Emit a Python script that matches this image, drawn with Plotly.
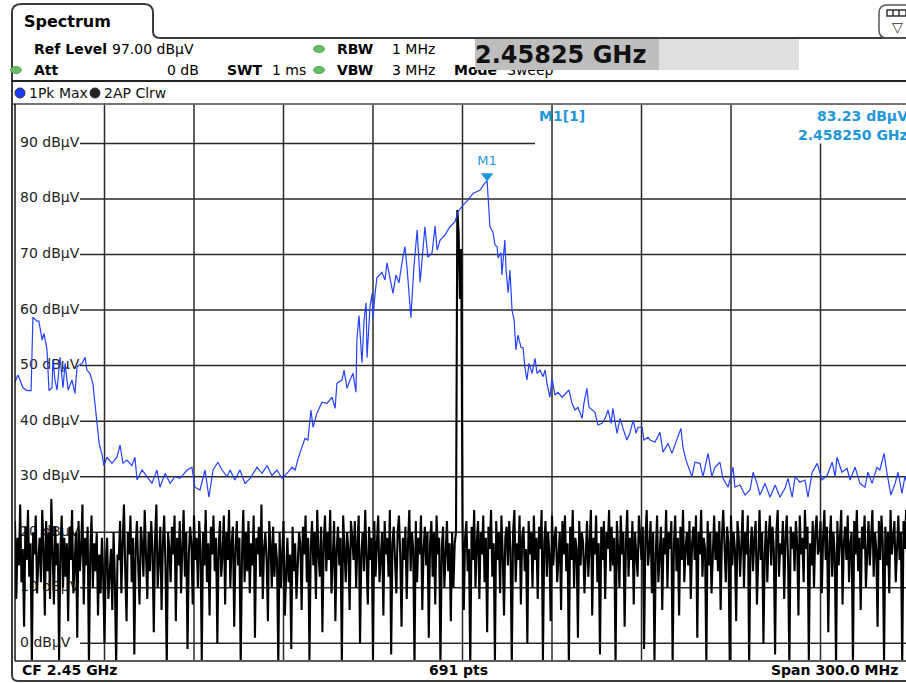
import numpy as np
import plotly.graph_objects as go

W, H = 906, 683
FONT = "DejaVu Sans"

# ---------------- data ----------------
start_ghz = 2.30
span_ghz = 0.30
n_points = 691

# Trace 1: Pk Max (blue), frequency offset from 2.30 GHz in MHz, level in dBuV
pk_offset_mhz = [
    0.0, 1.0, 2.7, 4.0, 5.4, 6.0, 7.4, 8.0, 9.1, 9.7, 10.7, 11.4, 12.4, 12.7, 13.4, 14.1,
    15.1, 16.1, 16.8, 17.8, 19.1, 20.1, 20.8, 22.5, 23.5, 24.1, 25.1, 26.1, 26.8, 27.5,
    28.2, 29.2, 29.8, 30.8, 32.5, 34.2, 35.2, 36.2, 37.5, 39.2, 40.2, 40.9, 42.6, 44.2,
    45.9, 47.6, 48.6, 50.3, 52.0, 53.6, 55.3, 57.7, 59.3, 60.3, 62.0, 63.7, 65.0, 66.4,
    68.0, 69.4, 71.1, 72.1, 73.7, 75.4, 77.1, 78.8, 81.1, 82.8, 84.5, 86.1, 87.8, 89.5,
    91.2, 92.9, 93.9, 94.9, 96.2, 97.2, 98.2, 99.2, 99.9, 101.2, 102.9, 104.6, 106.3,
    107.3, 107.9, 109.6, 110.3, 111.3, 112.3, 113.3, 114.3, 114.6, 115.3, 116.3, 117.0,
    117.7, 118.0, 119.0, 119.7, 120.0, 120.7, 121.3, 123.0, 124.0, 124.7, 125.7, 126.7,
    127.7, 128.7, 129.7, 130.7, 131.4, 132.7, 133.7, 134.8, 135.8, 136.8, 137.4, 138.4,
    139.8, 140.8, 141.5, 142.5, 144.1, 145.8, 147.5, 148.5, 150.2, 151.8, 153.5, 155.9,
    157.5, 158.25, 159.2, 160.2, 160.9, 161.6, 161.9, 162.9, 163.2, 164.2, 164.6, 165.3,
    165.9, 166.6, 167.3, 167.9, 168.6, 169.6, 170.3, 170.9, 171.6, 172.3, 173.3, 174.3,
    175.0, 176.0, 177.0, 177.7, 178.3, 179.3, 180.0, 181.0, 182.0, 183.4, 185.0, 185.7,
    186.7, 187.7, 188.7, 190.1, 190.7, 191.7, 192.4, 193.4, 194.4, 195.4, 196.8, 197.8,
    198.8, 199.8, 200.4, 201.8, 202.8, 203.8, 205.1, 206.1, 207.2, 208.2, 208.8, 210.2,
    210.8, 212.2, 212.9, 214.5, 216.2, 217.2, 218.9, 220.2, 221.9, 223.2, 223.9, 224.9,
    225.9, 226.9, 227.9, 229.6, 230.6, 232.3, 233.6, 234.6, 236.3, 237.3, 239.0, 240.7,
    241.3, 243.0, 244.7, 246.4, 247.4, 248.7, 249.7, 251.4, 253.1, 254.8, 256.4, 258.1,
    259.1, 260.5, 261.5, 263.1, 264.8, 265.8, 267.2, 268.9, 270.5, 272.2, 273.9, 274.9,
    275.5, 277.2, 278.9, 279.9, 281.6, 283.2, 284.9, 285.9, 287.3, 288.9, 289.9, 291.3,
    292.3, 293.6, 295.0, 296.0, 297.3, 298.3, 299.3, 300.0,
]
pk_level = [
    47.0, 48.3, 46.0, 45.5, 45.5, 58.7, 58.0, 58.0, 54.6, 55.8, 53.0, 45.5, 46.0, 51.0, 47.4, 45.6,
    51.5, 46.0, 50.4, 45.6, 47.4, 45.0, 49.8, 50.4, 51.5, 49.2, 48.6, 46.8, 43.2, 39.8,
    36.0, 33.9, 32.0, 33.5, 32.4, 33.5, 35.7, 32.4, 33.0, 32.0, 33.5, 29.4, 31.2, 30.0,
    28.8, 31.2, 28.1, 30.6, 28.8, 30.0, 29.7, 31.2, 31.7, 28.1, 27.6, 31.2, 26.3, 31.2,
    32.6, 31.2, 30.0, 31.2, 29.4, 31.2, 28.8, 29.7, 31.7, 30.6, 32.0, 30.2, 31.2, 29.7,
    30.6, 31.7, 31.2, 33.3, 35.3, 36.9, 36.6, 42.0, 38.9, 41.4, 43.4, 43.2, 44.3,
    42.3, 46.8, 47.4, 49.2, 45.9, 47.4, 48.6, 45.2, 54.6, 59.0, 50.5, 58.2,
    61.3, 51.4, 60.6, 63.0, 58.6, 63.0, 65.8, 66.8, 65.4, 68.5, 65.4, 63.0,
    66.3, 64.9, 68.5, 71.4, 67.7, 58.6, 67.7, 74.4, 65.0, 70.8, 75.0, 69.5,
    70.3, 75.1, 70.8, 72.6, 73.5, 75.0, 75.9, 77.7, 78.9, 79.8, 81.0, 81.6,
    82.9, 83.23, 75.0, 74.0, 71.7, 71.4, 69.4, 70.3, 66.3, 72.6, 67.2, 63.1,
    67.2, 60.0, 58.2, 52.8, 55.5, 53.3, 53.2, 49.8, 47.4, 50.4, 48.6, 51.3,
    48.6, 49.2, 48.0, 49.2, 46.8, 44.3, 47.7, 44.7, 45.2, 44.3, 45.2, 45.6,
    43.2, 42.0, 42.5, 40.5, 43.2, 45.9, 42.5, 42.0, 41.6, 39.3, 39.6, 40.5,
    42.0, 39.6, 42.3, 37.8, 40.5, 38.7, 36.6, 37.8, 40.2, 37.8, 38.9, 38.9,
    36.6, 37.1, 36.6, 36.2, 38.0, 34.4, 36.0, 34.2, 36.6, 38.7, 35.3, 33.0,
    31.5, 30.0, 32.6, 32.4, 30.0, 34.2, 30.0, 31.7, 32.6, 29.7, 28.1, 31.7,
    28.1, 28.5, 26.7, 27.6, 30.8, 28.8, 26.7, 28.8, 26.3, 28.5, 26.3, 27.9,
    29.7, 26.3, 30.0, 29.0, 29.4, 26.3, 30.8, 32.4, 29.4, 30.2, 32.6, 30.0,
    33.5, 30.8, 31.5, 29.4, 31.7, 28.8, 28.1, 30.8, 28.8, 31.7, 31.2, 34.2,
    30.6, 26.7, 28.8, 30.8, 27.0, 30.0, 28.5, 29.5,
]

# Trace 2: AP Clrw (black), 691 sweep points across the span, level in dBuV
ap_level = [
    22, 8, 19, 14, 25, 11, 17, 3, 21, 15, 24, 12, 18, -4, 20, 16, 23, 9, 15, 19,
    11, 24, 17, 5, 22, 13, 20, 8, 26, 16, 7, 21, 14, 18, -3, 17, 23, 10, 19, 12,
    18, 4, 21, 15, 24, 9, 16, 20, 1, 22, 13, 17, 25, 7, 19, 14, 21, -4, 16, 23,
    10, 18, 13, 20, 5, 16, 9, 19, 12, 0, 15, 19, 8, 14, 17, 6, 20, 11, -4, 16,
    15, 22, 9, 18, 25, 13, 4, 20, 16, 23, 11, 19, -2, 17, 22, 14, 7, 21, 18, 12,
    24, 16, 8, 20, 13, 22, 17, 2, 19, 25, 10, 15, 21, 6, 18, 23, 14, -4, 20, 17,
    11, 21, 16, 23, 4, 19, 14, 22, 9, 17, 24, 12, 20, -1, 16, 21, 18, 7, 23, 15,
    19, 10, 22, 17, -3, 20, 14, 24, 11, 18, 5, 21, 16, 23, 13, 19, 0, 17, 22, 12,
    16, 23, 7, 20, 15, 24, 10, 18, 21, 3, 17, 22, 14, 19, -4, 16, 24, 11, 20, 13,
    22, 9, 18, 14, 23, 1, 19, 16, 21, 12, 25, 8, 17, 20, 15, 4, 22, 18, 10, 21,
    12, 18, 15, -4, 20, 10, 17, 22, 5, 14, 19, 11, 16, -1, 21, 13, 18, 8, 15, 20,
    18, 6, 21, 16, 23, 11, 19, -3, 17, 22, 14, 20, 8, 24, 16, 12, 21, 2, 18, 23,
    13, 20, 15, 24, 9, 18, 22, 4, 17, 21, 14, 19, -4, 23, 16, 11, 20, 17, 6, 22,
    19, 15, 22, 10, 18, 23, 0, 16, 20, 13, 24, 17, 7, 21, 15, 19, -3, 22, 12, 18,
    23, 11, 17, 20, 5, 22, 16, 19, 12, 24, -2, 18, 21, 14, 9, 20, 23, 16, 3, 19,
    15, 21, 8, 18, 24, 13, 20, 17, -4, 22, 11, 19, 16, 23, 6, 17, 21, 14, 20, 1,
    18, 22, 12, 20, 7, 23, 16, 19, -4, 17, 21, 10, 15, 22, 13, 18, 4, 20, 10, 18,
    20, 78, 74, 62, 71, 22, 6, 19, 22, 13, 17, -4, 21, 15, 24, 10, 18, 22, 8, 20,
    16, 23, 11, 19, 2, 21, 17, 24, 12, 18, -3, 22, 15, 20, 9, 23, 16, 5, 19, 21,
    14, 22, 17, -4, 20, 24, 11, 18, 15, 23, 7, 19, 21, 13, 17, 0, 22, 16, 20, 10,
    23, 15, 19, 8, 21, 17, 24, -3, 18, 22, 12, 20, 16, 4, 23, 14, 19, 21, 11, 17,
    20, 6, 22, 16, 23, 13, 18, -4, 21, 15, 24, 10, 19, 17, 1, 22, 14, 20, 18, 9,
    17, 22, 12, 20, 24, 5, 19, 16, 23, 11, 18, -2, 21, 15, 22, 8, 20, 17, 24, 13,
    21, 14, 19, -4, 22, 17, 10, 23, 16, 20, 3, 18, 24, 12, 19, 15, 22, 7, 20, 16,
    12, 23, 18, 15, 21, -1, 19, 24, 14, 17, 22, 9, 20, -3, 16, 23, 11, 18, 21, 6,
    19, 16, 24, 10, 20, 17, 22, -4, 18, 23, 13, 19, 5, 21, 15, 24, 11, 17, 20, 14,
    22, 8, 18, 21, 15, 23, 1, 20, 16, 24, 12, 19, 17, -4, 22, 14, 20, 9, 18, 23,
    15, 20, 13, 22, 6, 19, 24, 16, 11, 21, 18, -3, 23, 14, 20, 17, 4, 22, 19, 12,
    18, 24, 10, 20, 16, 23, -4, 17, 21, 13, 19, 22, 7, 18, 24, 15, 20, 0, 16, 22,
    11, 19, 23, 14, 21, 17, -2, 20, 24, 12, 18, 16, 22, 8, 19, 23, 15, -4, 21, 17,
    20, 13, 22, 18, 5, 23, 16, 19, 11, 24, 17, 21, -3, 18, 14, 22, 10, 20, 23, 16,
    17, 22, 9, 19, 24, 15, 21, 2, 18, 23, 12, 20, 16, -4, 22, 14, 19, 24, 7, 18,
    21, 15, 23, 11, 18, 20, -4, 22, 16, 24, 13, 19, 6, 21, 17, 23, 10, 18, 22, 14,
    19, 24, 12, 20, 17, 3, 22, 15, 23, 18, -3, 21, 14, 20, 9, 24, 16, 19, 22, 11,
    18, 23, 15, 20, -4, 22, 17, 24, 13, 19, 21,
]

y_ticks = [90, 80, 70, 60, 50, 40, 30, 20, 10, 0]
y_tick_labels = ["90 dBµV", "80 dBµV", "70 dBµV", "60 dBµV", "50 dBµV",
                 "40 dBµV", "30 dBµV", "20 dBµV", "10 dBµV", "0 dBµV"]
x_grid_ghz = [2.33, 2.36, 2.39, 2.42, 2.45, 2.48, 2.51, 2.54, 2.57]

marker_freq_ghz = 2.45825
marker_level = 83.23

# ---------------- figure ----------------
pk_x = [start_ghz + m / 1000.0 for m in pk_offset_mhz]
ap_x = np.linspace(start_ghz, start_ghz + span_ghz, len(ap_level))

X0, X1 = start_ghz, start_ghz + span_ghz * 891 / 895
Y0, Y1 = -3, 97

BLUE = "#2342ff"
MBLUE = "#1f97dc"


def px(x):
    return x / W


def py(y):
    return 1 - y / H


fig = go.Figure()

# y-axis labels drawn inside the plot, beneath the traces
fig.add_trace(go.Scatter(
    x=[X0 + 0.0017] * len(y_ticks), y=y_ticks, mode="text", text=y_tick_labels,
    textposition="middle right", textfont=dict(family=FONT, size=14, color="#222"),
    hoverinfo="skip", cliponaxis=False))

fig.add_trace(go.Scatter(x=ap_x, y=ap_level, mode="lines",
                         line=dict(color="#000000", width=2.1), hoverinfo="skip"))
fig.add_trace(go.Scatter(x=pk_x, y=pk_level, mode="lines",
                         line=dict(color=BLUE, width=1.2), hoverinfo="skip"))
fig.add_trace(go.Scatter(
    x=[marker_freq_ghz], y=[marker_level + 0.9], mode="markers+text", text=["M1"],
    textposition="top center", textfont=dict(family=FONT, size=13, color=MBLUE),
    marker=dict(symbol="triangle-down", size=11, color=MBLUE), hoverinfo="skip",
    cliponaxis=False))

shapes = []
GRID = dict(color="#2a2a2a", width=1.5)
# horizontal grid
for t in y_ticks:
    x_end = 535 / W if t == 90 else 1.0
    shapes.append(dict(type="line", xref="paper", yref="y", x0=80 / W, x1=x_end,
                       y0=t, y1=t, line=GRID, layer="below"))
# vertical grid
for g in x_grid_ghz:
    top = 90 if g > 2.545 else Y1
    shapes.append(dict(type="line", xref="x", yref="y", x0=g, x1=g, y0=Y0, y1=top,
                       line=GRID, layer="below"))

# frame: tab + outer border
pts = (f"M {px(906)},{py(681)} L {px(18)},{py(681)} Q {px(12)},{py(681)} {px(12)},{py(675)} "
       f"L {px(12)},{py(13)} Q {px(12)},{py(4)} {px(21)},{py(4)} L {px(144)},{py(4)} "
       f"Q {px(153)},{py(4)} {px(153)},{py(13)} L {px(153)},{py(31)} "
       f"Q {px(153)},{py(38)} {px(160)},{py(38)} L {px(906)},{py(38)}")
shapes.append(dict(type="path", xref="paper", yref="paper", path=pts,
                   line=dict(color="#3a3a3a", width=2)))
# header separators
shapes.append(dict(type="line", xref="paper", yref="paper", x0=px(12), x1=1,
                   y0=py(81), y1=py(81), line=dict(color="#222", width=2)))
shapes.append(dict(type="line", xref="paper", yref="paper", x0=px(12), x1=1,
                   y0=py(104), y1=py(104), line=dict(color="#444", width=1.5)))
# plot left border and bottom
shapes.append(dict(type="line", xref="paper", yref="paper", x0=px(15), x1=px(15),
                   y0=py(104), y1=py(661), line=dict(color="#111", width=1.5)))
shapes.append(dict(type="line", xref="paper", yref="paper", x0=px(15), x1=1,
                   y0=py(661), y1=py(661), line=dict(color="#222", width=1.5)))
# top-right icon
icon = (f"M {px(915)},{py(38)} L {px(887)},{py(38)} Q {px(879)},{py(38)} {px(879)},{py(30)} "
        f"L {px(879)},{py(13)} Q {px(879)},{py(5)} {px(887)},{py(5)} L {px(915)},{py(5)}")
shapes.append(dict(type="path", xref="paper", yref="paper", path=icon,
                   line=dict(color="#555", width=1.5)))
shapes.append(dict(type="rect", xref="paper", yref="paper", x0=px(887), x1=px(906),
                   y0=py(10), y1=py(16), line=dict(color="#333", width=1.5),
                   fillcolor="#ffffff"))
for xx in (893, 899):
    shapes.append(dict(type="line", xref="paper", yref="paper", x0=px(xx), x1=px(xx),
                       y0=py(10), y1=py(16), line=dict(color="#333", width=1.5)))
# light gray part of the marker frequency box
shapes.append(dict(type="rect", xref="paper", yref="paper", x0=px(475), x1=px(799),
                   y0=py(39), y1=py(70), line=dict(width=0), fillcolor="#e0e0e0"))
# status dots
for (cx, cy) in [(16, 70), (319, 49), (319, 70)]:
    shapes.append(dict(type="circle", xref="paper", yref="paper",
                       x0=px(cx - 5.5), x1=px(cx + 5.5), y0=py(cy - 3.5), y1=py(cy + 3.5),
                       line=dict(color="#3f9a3f", width=0.8), fillcolor="#66bb66"))
# trace legend dots
for (cx, col) in [(20, "#1a3cff"), (95, "#222222")]:
    shapes.append(dict(type="circle", xref="paper", yref="paper",
                       x0=px(cx - 5), x1=px(cx + 5), y0=py(88), y1=py(98),
                       line=dict(color="#333", width=1), fillcolor=col))


def txt(x, y, s, size=14, bold=False, color="#000", anchor="left"):
    return dict(x=px(x), y=py(y), xref="paper", yref="paper",
                text=f"<b>{s}</b>" if bold else s, showarrow=False, xanchor=anchor,
                yanchor="middle", font=dict(family=FONT, size=size, color=color))


ann = [
    txt(22, 21, "Spectrum", size=16, bold=True),
    txt(32, 49, "Ref Level", bold=True), txt(110, 49, "97.00 dBµV"),
    txt(32, 70, "Att", bold=True), txt(201, 70, "0 dB", anchor="right"),
    txt(225, 70, "SWT", bold=True), txt(270, 70, "1 ms"),
    txt(335, 49, "RBW", bold=True), txt(390, 49, "1 MHz"),
    txt(335, 70, "VBW", bold=True), txt(390, 70, "3 MHz"),
    txt(452, 70, "Mode", bold=True), txt(505, 70, "Sweep"),
    dict(x=px(475), y=py(39), xref="paper", yref="paper", xanchor="left", yanchor="top",
         text="<b>2.45825 GHz</b>", showarrow=False, width=184, height=31, align="left",
         bgcolor="#bebebe", borderpad=0, borderwidth=0,
         font=dict(family=FONT, size=24, color="#111")),
    txt(27, 93, "1Pk Max", color="#111"), txt(102, 93, "2AP Clrw", color="#111"),
    txt(897, 27, "▽", size=14, color="#333", anchor="center"),
    txt(537, 116, "M1[1]", bold=True, color=MBLUE),
    txt(815, 116, "83.23 dBµV", bold=True, color=MBLUE),
    txt(796, 135, "2.458250 GHz", bold=True, color=MBLUE),
    txt(20, 670, "CF 2.45 GHz", bold=True),
    txt(458, 670, "691 pts", bold=True, anchor="center"),
    txt(900, 670, "Span 300.0 MHz", bold=True, anchor="right"),
]

fig.update_layout(
    width=W, height=H, autosize=False,
    margin=dict(l=0, r=0, t=0, b=0, pad=0),
    paper_bgcolor="white", plot_bgcolor="white", showlegend=False,
    xaxis=dict(domain=[15 / W, 1], range=[X0, X1], visible=False, fixedrange=True),
    yaxis=dict(domain=[(H - 660) / H, (H - 104.5) / H], range=[Y0, Y1], visible=False,
               fixedrange=True),
    shapes=shapes, annotations=ann,
)

fig.write_html("out.html", config={"displayModeBar": False},
               post_script="document.body.style.margin='0';document.body.style.overflow='hidden';")
